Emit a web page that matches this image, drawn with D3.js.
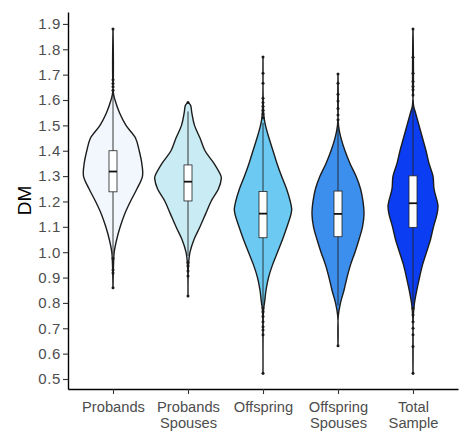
<!DOCTYPE html>
<html><head><meta charset="utf-8">
<script src="https://cdn.jsdelivr.net/npm/d3@7"></script>
<style>
body{margin:0;background:#fff}
svg{display:block}
text{font-family:"Liberation Sans",Arial,Helvetica,sans-serif}
</style>
</head><body>
<svg id="chart" width="474" height="446"></svg>
<script>
// ---- data ----
const categories = ["Probands", "Probands\nSpouses", "Offspring", "Offspring\nSpouses", "Total\nSample"];
const fillColors = ["#f2f7fd", "#c9ecf4", "#6ccaf2", "#3d8fee", "#0b3ef3"];
const yTickValues = [0.5, 0.6, 0.7, 0.8, 0.9, 1.0, 1.1, 1.2, 1.3, 1.4, 1.5, 1.6, 1.7, 1.8, 1.9];

// violin density profiles: [DM, density]
const densityProbands = [[0.86,0],[0.95,0.05],[1.00,0.12],[1.05,0.37],[1.10,0.72],[1.15,1.16],[1.20,1.74],[1.25,2.40],[1.30,2.95],[1.35,2.88],[1.40,2.62],[1.45,2.25],[1.50,1.30],[1.55,0.65],[1.60,0.20],[1.63,0.03],[1.88,0]];
const densitySpouses = [[0.83,0],[0.95,0.05],[1.00,0.20],[1.05,0.60],[1.10,1.20],[1.15,1.75],[1.20,2.30],[1.25,3.05],[1.29,3.33],[1.30,3.30],[1.35,2.60],[1.40,1.70],[1.45,1.20],[1.50,0.65],[1.55,0.38],[1.58,0.25],[1.59,0]];
const densityOffspring = [[0.52,0],[0.75,0.03],[0.78,0.07],[0.80,0.15],[0.85,0.30],[0.90,0.55],[0.95,0.95],[1.00,1.45],[1.05,1.95],[1.10,2.40],[1.15,2.80],[1.17,2.87],[1.20,2.73],[1.25,2.35],[1.30,1.85],[1.35,1.40],[1.40,1.00],[1.45,0.60],[1.50,0.25],[1.54,0.08],[1.77,0]];
const densityOffspringSpouses = [[0.63,0],[0.75,0.03],[0.80,0.25],[0.85,0.60],[0.90,0.90],[0.95,1.25],[1.00,1.70],[1.05,2.10],[1.10,2.45],[1.15,2.60],[1.20,2.50],[1.25,2.25],[1.30,1.80],[1.35,1.20],[1.40,0.70],[1.45,0.30],[1.50,0.05],[1.70,0]];
const densityTotal = [[0.52,0],[0.75,0.03],[0.80,0.15],[0.85,0.38],[0.90,0.65],[0.95,0.95],[1.00,1.35],[1.05,1.75],[1.10,2.05],[1.15,2.40],[1.18,2.50],[1.20,2.42],[1.25,2.10],[1.30,2.00],[1.35,1.60],[1.40,1.30],[1.45,0.95],[1.50,0.60],[1.55,0.25],[1.58,0.05],[1.88,0]];

// box plot statistics
const q1Values = [1.238, 1.202, 1.057, 1.061, 1.098];
const medianValues = [1.318, 1.278, 1.152, 1.151, 1.193];
const q3Values = [1.400, 1.344, 1.239, 1.241, 1.301];
const whiskerLow = [0.99, 0.985, 0.785, 0.79, 0.795];
const whiskerHigh = [1.63, 1.555, 1.51, 1.51, 1.60];

// outliers
const outliersProbands = [1.88, 1.68, 1.665, 1.652, 1.638, 0.975, 0.93, 0.918, 0.86];
const outliersSpouses = [1.59, 0.959, 0.946, 0.926, 0.906, 0.827];
const outliersOffspring = [1.77, 1.706, 1.666, 1.607, 1.59, 1.575, 1.56, 1.545, 1.53, 0.78, 0.765, 0.746, 0.726, 0.706, 0.693, 0.674, 0.523];
const outliersOffspringSpouses = [1.703, 1.666, 1.623, 1.596, 1.567, 1.541, 1.522, 0.631];
const outliersTotal = [1.88, 1.769, 1.706, 1.673, 1.653, 1.64, 1.62, 0.779, 0.752, 0.726, 0.70, 0.674, 0.628, 0.523];

const densities = [densityProbands, densitySpouses, densityOffspring, densityOffspringSpouses, densityTotal];
const outliers = [outliersProbands, outliersSpouses, outliersOffspring, outliersOffspringSpouses, outliersTotal];

// ---- chart ----
const svg = d3.select("#chart");
const mLeft = 68, mRight = 458, mTop = 12, mBottom = 389;

const y = d3.scaleLinear().domain([0.4606, 1.947]).range([mBottom, mTop]);
const x = d3.scalePoint().domain(categories).range([mLeft, mRight]).padding(0.6);
const w = d3.scaleLinear().domain([0, 1]).range([0, 10]);

svg.append("rect").attr("x",0).attr("y",0).attr("width",474).attr("height",446).attr("fill","#fff");

const g = svg.append("g");

categories.forEach((c, i) => {
  const cx = x(c);
  const area = d3.area()
    .y(d => y(d[0]))
    .x0(d => cx - w(d[1]))
    .x1(d => cx + w(d[1]))
    .curve(d3.curveCatmullRom.alpha(0.5));
  g.append("path")
    .attr("d", area(densities[i]))
    .attr("fill", fillColors[i])
    .attr("stroke", "#1c1c1c")
    .attr("stroke-width", 1.4)
    .attr("stroke-linejoin", "round");
  g.append("line")
    .attr("x1", cx).attr("x2", cx)
    .attr("y1", y(whiskerLow[i])).attr("y2", y(whiskerHigh[i]))
    .attr("stroke", "#222").attr("stroke-width", 0.9);
  g.append("rect")
    .attr("x", cx - 4).attr("width", 8)
    .attr("y", y(q3Values[i])).attr("height", y(q1Values[i]) - y(q3Values[i]))
    .attr("fill", "#fff").attr("stroke", "#222").attr("stroke-width", 0.8);
  g.append("line")
    .attr("x1", cx - 4).attr("x2", cx + 4)
    .attr("y1", y(medianValues[i])).attr("y2", y(medianValues[i]))
    .attr("stroke", "#111").attr("stroke-width", 1.8);
  g.selectAll(null).data(outliers[i]).enter().append("circle")
    .attr("cx", cx).attr("cy", d => y(d)).attr("r", 1.5)
    .attr("fill", "#1a1a1a");
});

const yAxis = svg.append("g").attr("transform", `translate(${mLeft},0)`)
  .call(d3.axisLeft(y).tickValues(yTickValues).tickFormat(d3.format(".1f")).tickSize(5).tickSizeOuter(0));
const xAxis = svg.append("g").attr("transform", `translate(0,${mBottom})`)
  .call(d3.axisBottom(x).tickSize(5).tickSizeOuter(0).tickFormat(""));

[yAxis, xAxis].forEach(a => {
  a.select(".domain").attr("stroke", "#000").attr("stroke-width", 1.4);
  a.selectAll(".tick line").attr("stroke", "#333").attr("stroke-width", 1.1);
});
yAxis.selectAll(".tick text").attr("fill", "#4d4d4d").attr("font-size", 15).attr("letter-spacing", "0.6px").attr("x", -7);

xAxis.selectAll(".tick").each(function(d) {
  const t = d3.select(this).append("text")
    .attr("fill", "#4d4d4d").attr("font-size", 14.7).attr("text-anchor", "middle");
  d.split("\n").forEach((line, k) => {
    t.append("tspan").attr("x", 0).attr("y", 22.5 + k * 16.3).text(line);
  });
});

svg.append("text")
  .attr("transform", `translate(31,${(mTop + mBottom) / 2}) rotate(-90)`)
  .attr("text-anchor", "middle")
  .attr("font-size", 19)
  .attr("fill", "#000")
  .text("DM");
</script>
</body></html>
